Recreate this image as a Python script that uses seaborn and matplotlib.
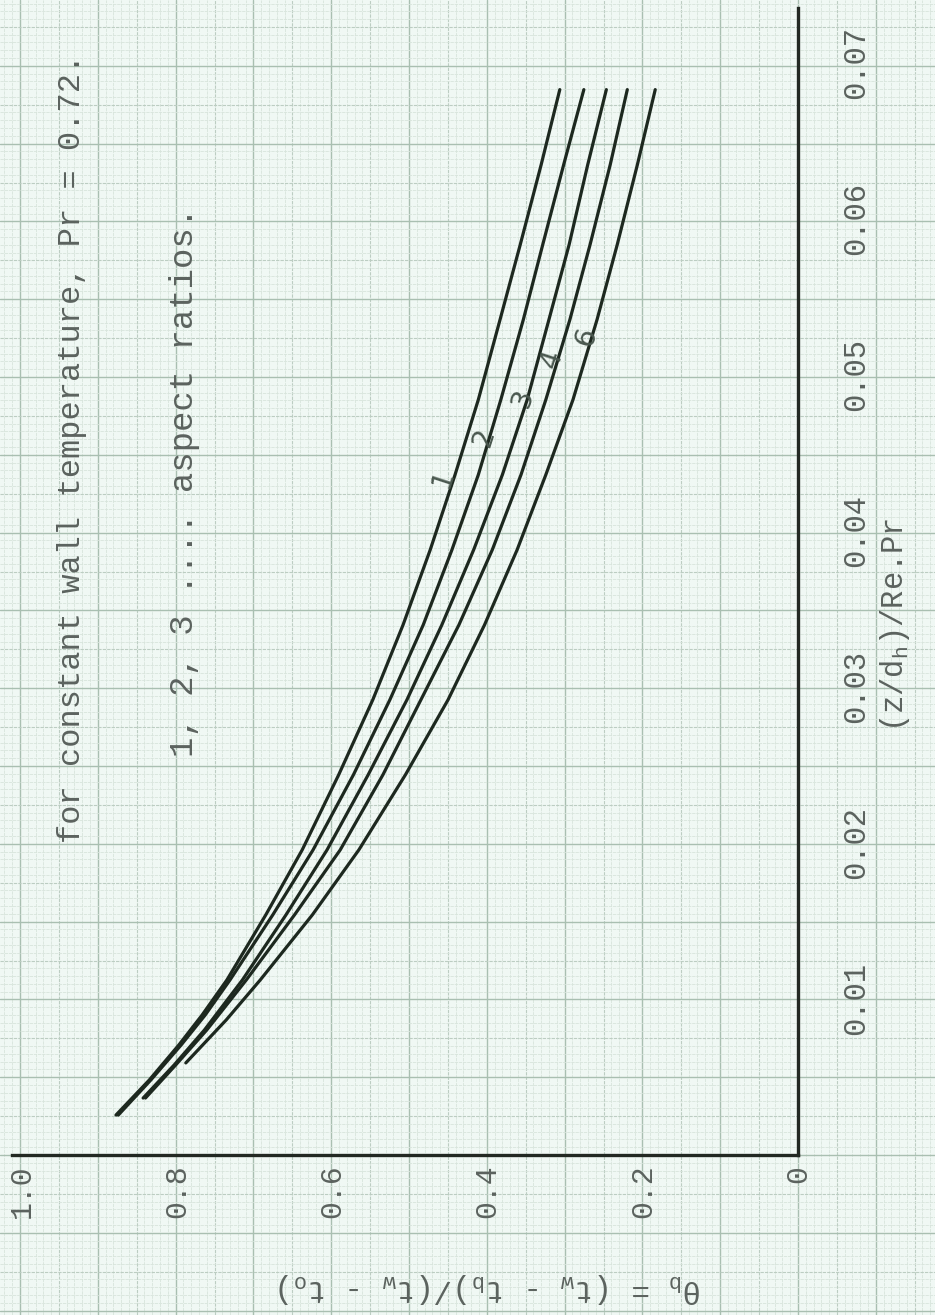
import numpy as np
import pandas as pd
import matplotlib
matplotlib.use("Agg")
import matplotlib.pyplot as plt
import seaborn as sns

# ---------------- data ----------------
curve_names = ["1", "2", "3", "4", "6"]

z_1 = [0.00256, 0.00481, 0.00705, 0.00897, 0.01122, 0.01538, 0.01955, 0.02436,
       0.02917, 0.03397, 0.03878, 0.04359, 0.04840, 0.05353, 0.05833, 0.06346, 0.06827]
theta_1 = [0.879, 0.836, 0.798, 0.768, 0.736, 0.686, 0.639, 0.592,
           0.548, 0.509, 0.474, 0.442, 0.412, 0.384, 0.358, 0.331, 0.307]

z_2 = [0.00256, 0.00481, 0.00705, 0.00897, 0.01122, 0.01538, 0.01955, 0.02436,
       0.02917, 0.03397, 0.03878, 0.04359, 0.04840, 0.05353, 0.05833, 0.06346, 0.06827]
theta_2 = [0.876, 0.834, 0.795, 0.764, 0.732, 0.677, 0.625, 0.573,
           0.526, 0.483, 0.446, 0.412, 0.383, 0.354, 0.329, 0.302, 0.276]

z_3 = [0.00365, 0.00577, 0.00801, 0.01122, 0.01538, 0.01955, 0.02436, 0.02917,
       0.03397, 0.03878, 0.04359, 0.04840, 0.05353, 0.05833, 0.06346, 0.06827]
theta_3 = [0.844, 0.804, 0.765, 0.716, 0.660, 0.607, 0.554, 0.504,
           0.459, 0.418, 0.381, 0.349, 0.321, 0.295, 0.271, 0.247]

z_4 = [0.00365, 0.00577, 0.00801, 0.01122, 0.01538, 0.01955, 0.02436, 0.02917,
       0.03397, 0.03878, 0.04359, 0.04840, 0.05353, 0.05833, 0.06346, 0.06827]
theta_4 = [0.841, 0.802, 0.762, 0.711, 0.649, 0.590, 0.535, 0.486,
           0.437, 0.394, 0.357, 0.325, 0.294, 0.268, 0.242, 0.220]

z_6 = [0.00590, 0.00865, 0.01122, 0.01538, 0.01955, 0.02436, 0.02917, 0.03397,
       0.03878, 0.04359, 0.04840, 0.05353, 0.05833, 0.06346, 0.06827]
theta_6 = [0.789, 0.737, 0.693, 0.626, 0.566, 0.506, 0.451, 0.404,
           0.362, 0.325, 0.290, 0.259, 0.233, 0.207, 0.184]

theta_ticks = [1.0, 0.8, 0.6, 0.4, 0.2, 0.0]
theta_ticklabels = ["1.0", "0.8", "0.6", "0.4", "0.2", "0"]
z_ticks = [0.01, 0.02, 0.03, 0.04, 0.05, 0.06, 0.07]
z_ticklabels = ["0.01", "0.02", "0.03", "0.04", "0.05", "0.06", "0.07"]

# positions of the hand-written curve numbers (theta, z)
label_theta = [0.457, 0.405, 0.355, 0.317, 0.273]
label_z = [0.0434, 0.0460, 0.0485, 0.0510, 0.0524]

frames = []
for name, zz, tt in zip(curve_names, [z_1, z_2, z_3, z_4, z_6],
                        [theta_1, theta_2, theta_3, theta_4, theta_6]):
    frames.append(pd.DataFrame({"z": zz, "theta": tt, "curve": name}))
df = pd.concat(frames, ignore_index=True)

# ---------------- style ----------------
sns.set_theme(style="white")
plt.rcParams["font.family"] = ["Liberation Mono", "DejaVu Sans Mono"]
plt.rcParams["mathtext.fontset"] = "custom"
plt.rcParams["mathtext.rm"] = "Liberation Mono"
plt.rcParams["mathtext.it"] = "Liberation Mono"

W, H = 935, 1315
paper = "#f0f8f4"
ink = "#1d281f"
typed = "#5b625e"

fig = plt.figure(figsize=(W / 100, H / 100), dpi=100)
fig.patch.set_facecolor(paper)

# graph-paper background (pixel coordinates)
bg = fig.add_axes([0, 0, 1, 1])
bg.set_xlim(0, W)
bg.set_ylim(H, 0)
bg.set_facecolor(paper)
bg.axis("off")
step = 7.78
x0, y0 = 798, 1155
major_c, mid_c, minor_c = "#a9bfb1", "#bccdc2", "#d8e4dc"
for k in range(-110, 30):
    x = x0 + k * step
    if 0 <= x <= W:
        if k % 10 == 0:
            bg.axvline(x, color=major_c, lw=1.0, zorder=0)
        elif k % 5 == 0:
            bg.axvline(x, color=mid_c, lw=0.8, zorder=0, ls=(0, (3, 1)))
        else:
            bg.axvline(x, color=minor_c, lw=0.6, zorder=0, ls=(0, (4, 1)))
for k in range(-155, 30):
    y = y0 + k * step
    if 0 <= y <= H:
        if k % 10 == 0:
            bg.axhline(y, color=major_c, lw=1.0, zorder=0)
        elif k % 5 == 0:
            bg.axhline(y, color=mid_c, lw=0.8, zorder=0, ls=(0, (3, 1)))
        else:
            bg.axhline(y, color=minor_c, lw=0.6, zorder=0, ls=(0, (4, 1)))

# main axes (the page is rotated: theta runs horizontally, z vertically)
left, right, bottom_px, top_px = 12, 798, 1155, 8
ax = fig.add_axes([left / W, 1 - bottom_px / H, (right - left) / W, (bottom_px - top_px) / H])
ax.patch.set_alpha(0)

sns.lineplot(data=df, x="theta", y="z", hue="curve", units="curve",
             estimator=None, sort=False, palette=[ink] * 5, lw=2.3,
             legend=False, ax=ax)
for ln in ax.lines:
    ln.set_solid_capstyle("round")
    ln.set_solid_joinstyle("round")

ax.set_xlim(1.013, 0)
ax.set_ylim(0, 0.0735)
for s in ["left", "top"]:
    ax.spines[s].set_visible(False)
for s in ["bottom", "right"]:
    ax.spines[s].set_visible(True)
    ax.spines[s].set_color("#222822")
    ax.spines[s].set_linewidth(2.4)

ax.set_xticks(theta_ticks)
ax.set_xticklabels(theta_ticklabels, rotation=90, fontsize=21.5, color=typed)
ax.yaxis.tick_right()
ax.set_yticks(z_ticks)
ax.set_yticklabels(z_ticklabels, rotation=90, fontsize=22, color=typed, va="center")
ax.tick_params(axis="x", length=0, pad=7)
ax.tick_params(axis="y", length=0, pad=31)
ax.set_xlabel("")
ax.set_ylabel("")

for name, lt, lz in zip(curve_names, label_theta, label_z):
    ax.text(lt, lz, name, rotation=72, fontsize=20, color="#4a584f",
            ha="center", va="center", family=["DejaVu Sans"])

# axis titles and notes (rotated like the scanned page)
fig.text(895 / W, 1 - 625 / H, r"(z/d$_\mathrm{h}$)/Re.Pr", rotation=90,
         fontsize=22, color=typed, ha="center", va="center")
fig.text(490 / W, 1 - 1288 / H,
         r"θ$_\mathrm{b}$ = (t$_\mathrm{w}$ - t$_\mathrm{b}$)/(t$_\mathrm{w}$ - t$_\mathrm{o}$)",
         rotation=180, fontsize=22.5, color=typed, ha="center", va="center")
fig.text(72 / W, 1 - 448 / H, "for constant wall temperature, Pr = 0.72.",
         rotation=90, fontsize=23, color=typed, ha="center", va="center")
fig.text(185 / W, 1 - 482 / H, "1, 2, 3 .... aspect ratios.",
         rotation=90, fontsize=24.5, color=typed, ha="center", va="center")

fig.savefig("out.png", dpi=100, facecolor=paper)
